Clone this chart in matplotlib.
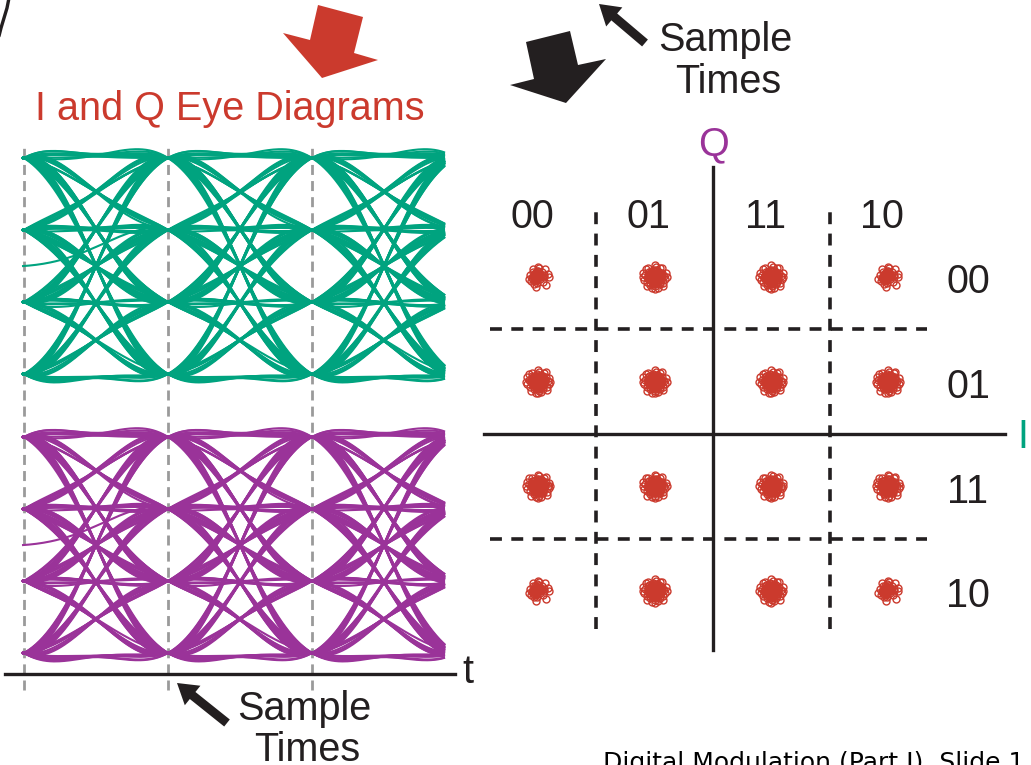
import numpy as np
import matplotlib.pyplot as plt
from matplotlib.patches import Polygon, FancyArrow

plt.rcParams['font.family'] = ['Liberation Sans', 'DejaVu Sans']

# 4-level symbol stream (index into levels); both rails carry the same stream
symbols = ("2021" "3312" "0032" "1130" "2203" "1102" "3320" "1013" "2231" "0301"
           "2123" "0031" "2210" "3302" "1132" "0012" "3321" "0230" "1103" "2023"
           "1310" "2201" "3120" "3313" "0020" "2131" "3202" "0313" "1030" "3121"
           "2212" "1303" "0011" "2223" "3330" "0112" "2001" "1233" "2100" "1322")
levels = [-3, -1, 1, 3]
sample_times = [0, 1, 2]

# 16-QAM constellation
const_levels = [-3, -1, 1, 3]
col_labels = ["00", "01", "11", "10"]
row_labels = ["00", "01", "11", "10"]          # top row first
cluster_offsets = [
    (0.0, 0.0), (0.35, 0.1), (-0.3, 0.2), (0.1, -0.4), (-0.2, -0.3),
    (0.5, -0.2), (-0.55, -0.05), (0.2, 0.55), (-0.1, 0.6), (0.6, 0.35),
    (-0.45, 0.45), (0.4, -0.55), (-0.35, -0.6), (0.75, 0.05), (-0.75, 0.15),
    (0.05, -0.75), (0.1, 0.8), (0.7, -0.45), (-0.65, -0.4), (0.45, 0.7),
    (-0.5, 0.7), (0.85, -0.15), (-0.85, -0.2), (0.25, -0.85), (-0.2, -0.88),
    (0.3, 0.25), (-0.15, 0.35), (0.2, -0.15), (-0.4, -0.1), (0.55, 0.15),
    (0.9, 0.3), (-0.9, 0.35), (0.6, 0.75), (-0.7, 0.65), (0.7, -0.7),
    (-0.6, -0.75), (0.0, 0.95), (0.0, -0.95), (0.95, 0.0), (-0.95, 0.0),
]

GREEN = '#00A37F'
PURPLE = '#9A3399'
RED = '#CB3A2D'
INK = '#231F20'
GRAY = '#9A9A9A'
FS = 28.5

W, H = 1031, 765
fig = plt.figure(figsize=(W / 100, H / 100), dpi=100)


def px_axes(x0, y0, x1, y1):
    a = fig.add_axes([x0 / W, 1 - y1 / H, (x1 - x0) / W, (y1 - y0) / H])
    a.set_axis_off()
    a.patch.set_alpha(0)
    return a


def raised_cosine(t, beta):
    den = 1.0 - (2.0 * beta * t) ** 2
    ok = np.abs(den) > 1e-6
    val = np.sinc(t) * np.cos(np.pi * beta * t) / np.where(ok, den, 1.0)
    return np.where(ok, val, np.pi / 4 * np.sinc(1 / (2 * beta)))


def eye_traces(stream, t0, t1, beta=0.95):
    amps = np.array([levels[int(c)] for c in stream], float)
    idx = np.arange(len(amps))
    t = np.linspace(t0, t1, 240)
    traces = []
    for k in range(-1, len(amps) - 4):
        pulses = raised_cosine((t + k)[:, None] - idx[None, :], beta)
        traces.append(pulses @ amps)
    return t, traces


# time axis: one symbol period = 144 px, first sample time at x = 24
T_LIM = ((0 - 24) / 144, (470 - 24) / 144)
T_WIN = ((22 - 24) / 144, (445 - 24) / 144)

# dashed sample-time markers behind both eyes
ax_grid = px_axes(0, 140, 470, 700)
ax_grid.set_xlim(*T_LIM)
ax_grid.set_ylim(0, 1)
for ts in sample_times:
    ax_grid.axvline(ts, ymin=0.018, ymax=0.986, color=GRAY, lw=2,
                    linestyle=(0, (3.6, 2.2)))

t, traces = eye_traces(symbols, *T_WIN)
for rect, color in [((0, 140, 470, 392), GREEN), ((0, 419, 470, 671), PURPLE)]:
    ax = px_axes(*rect)
    ax.set_xlim(*T_LIM)
    ax.set_ylim(-3.5, 3.5)
    for y in traces:
        ax.plot(t, y, color=color, lw=1.5, solid_capstyle='butt')

# constellation: 58.3 px per unit on I, 52.3 px per unit on Q, origin at (713, 434)
SX, SY, CX, CY = 58.3, 52.3, 713, 434
axc = px_axes(470, 110, 1031, 680)
axc.set_xlim((470 - CX) / SX, (1031 - CX) / SX)
axc.set_ylim((CY - 680) / SY, (CY - 110) / SY)

axc.plot([(484 - CX) / SX, (1005 - CX) / SX], [0, 0], color=INK, lw=2.4)
axc.plot([0, 0], [(CY - 650) / SY, (CY - 167) / SY], color=INK, lw=2.4)
dash = (0, (3.3, 2.6))
for b in (-2, 2):
    axc.plot([b, b], [(CY - 629) / SY, (CY - 210) / SY], color=INK, lw=2.6,
             linestyle=dash)
    axc.plot([(490 - CX) / SX, (927 - CX) / SX], [b, b], color=INK, lw=2.6,
             linestyle=dash)

# each received cluster: outer ring of scattered samples plus a dense core
offs = np.array(cluster_offsets)
for qi, q in enumerate(const_levels):
    for ii, i in enumerate(const_levels):
        corner = qi in (0, 3) and ii in (0, 3)
        r = 0.19 if corner else 0.215
        for shrink in (1.0, 0.6, 0.3):
            pts = offs[::2] if corner else offs
            axc.plot(i + r * shrink * pts[:, 0], q + r * 1.1 * shrink * pts[:, 1],
                     'o', ms=5, mfc='none', mec=RED, mew=1.0)

for lab, i in zip(col_labels, const_levels):
    axc.text(i - 0.1, (CY - 228) / SY, lab, fontsize=FS, color=INK,
             ha='center', va='baseline')
for lab, q in zip(row_labels, const_levels[::-1]):
    axc.text((968 - CX) / SX, q - 0.31, lab, fontsize=FS, color=INK,
             ha='center', va='baseline')
axc.text(0, (CY - 155) / SY, "Q", fontsize=FS, color=PURPLE, ha='center',
         va='baseline')
axc.text((1023 - CX) / SX, (CY - 448) / SY, "I", fontsize=FS, color=GREEN,
         ha='center', va='baseline')

# annotation layer in pixel coordinates
ov = px_axes(0, 0, W, H)
ov.set_xlim(0, W)
ov.set_ylim(H, 0)

ov.plot([5, 455], [674, 674], color=INK, lw=2.4)
ov.text(468, 683, "t", fontsize=FS, color=INK, ha='center', va='baseline')

ov.text(230, 120, "I and Q Eye Diagrams", fontsize=FS, color=RED,
        ha='center', va='baseline')
ov.add_patch(Polygon([(318, 5), (363, 17), (354, 53), (378, 60), (322, 78),
                      (283, 33), (310, 40)], closed=True, color=RED, lw=0))
ov.add_patch(Polygon([(526, 42), (570, 31), (578, 65), (606, 59), (566, 103),
                      (510, 85), (534, 79)], closed=True, color=INK, lw=0))

ov.text(725, 51, "Sample", fontsize=FS, color=INK, ha='center', va='baseline')
ov.text(728, 93, "Times", fontsize=FS, color=INK, ha='center', va='baseline')
ov.add_patch(FancyArrow(645, 43, -46, -39, width=9, head_width=25,
                        head_length=20, length_includes_head=True,
                        color=INK, lw=0))

ov.text(304, 720, "Sample", fontsize=FS, color=INK, ha='center', va='baseline')
ov.text(307, 761, "Times", fontsize=FS, color=INK, ha='center', va='baseline')
ov.add_patch(FancyArrow(227, 723, -50, -40, width=9, head_width=25,
                        head_length=20, length_includes_head=True,
                        color=INK, lw=0))

ov.plot([9, 7, 4, 1, -1], [-2, 8, 18, 28, 36], color=INK, lw=2.4,
        solid_capstyle='round')

ov.text(603, 751, "Digital Modulation (Part I), Slide 1", fontsize=18,
        color='black', ha='left', va='top', family=['DejaVu Sans'])

fig.savefig("out.png", dpi=100)
